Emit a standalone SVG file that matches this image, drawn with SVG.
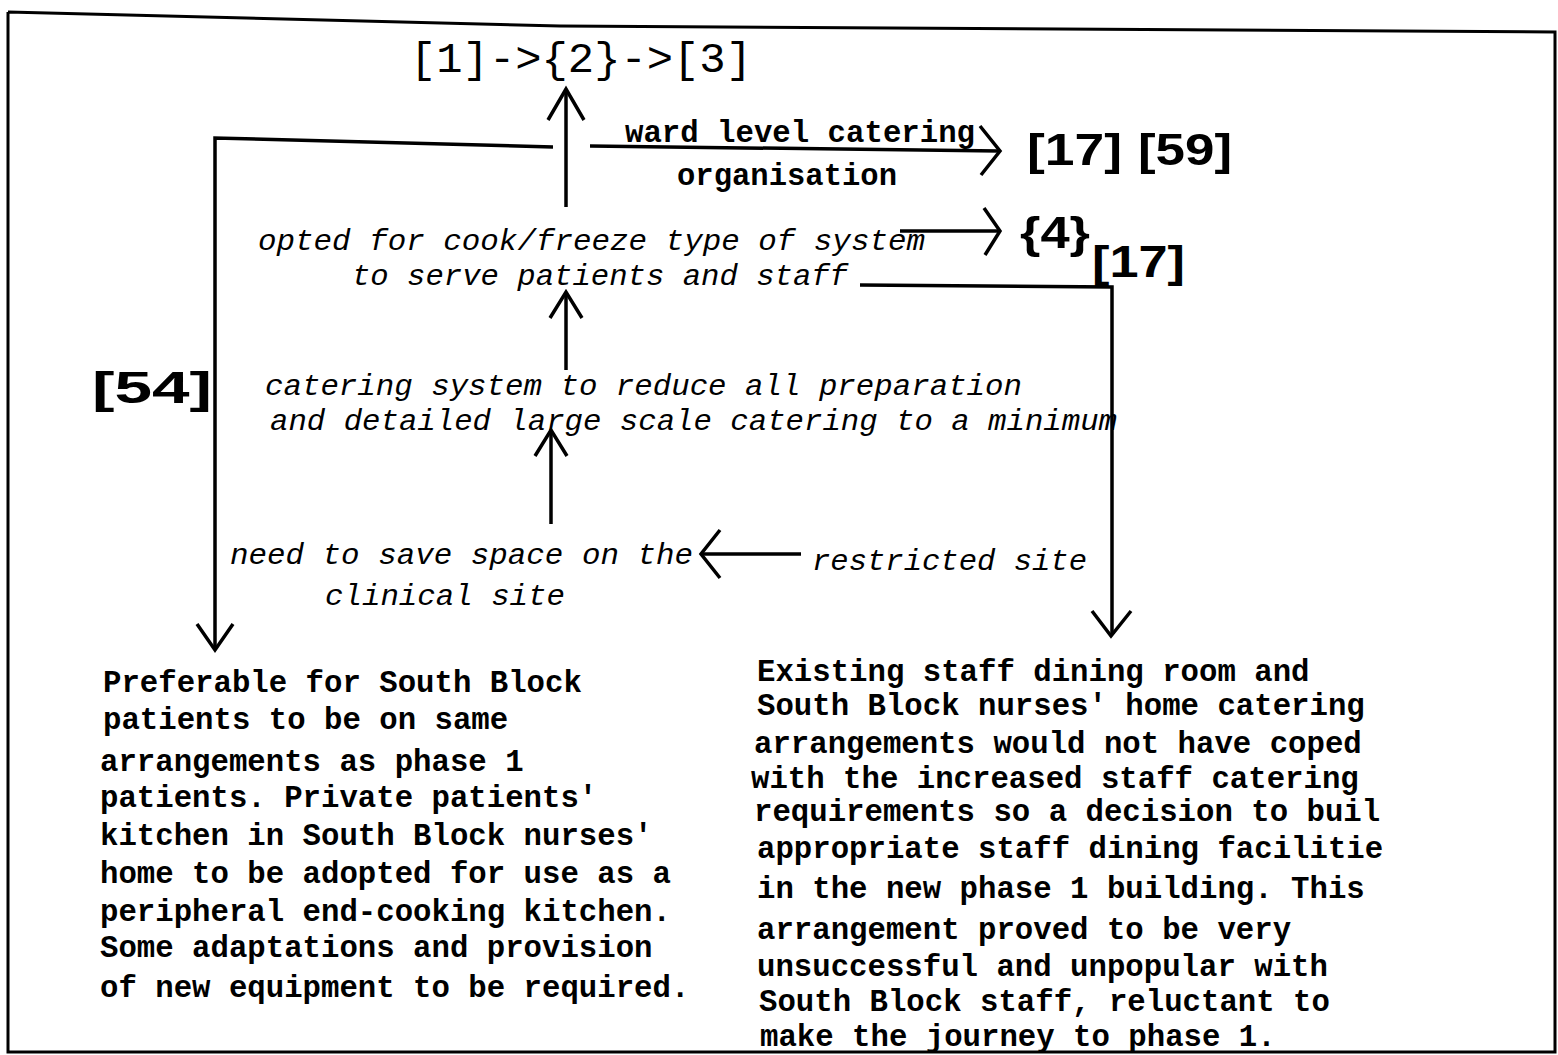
<svg xmlns="http://www.w3.org/2000/svg" width="1558" height="1055" viewBox="0 0 1558 1055">
<style>
  .frame { fill: none; stroke: #000; stroke-width: 3; }
  .line { fill: none; stroke: #000; stroke-width: 3.5; stroke-linecap: butt; }
  .head { fill: none; stroke: #000; stroke-width: 3.5; stroke-linejoin: miter; }
  .mono { font-family: "Liberation Mono", "Courier New", monospace; fill: #000; }
  .it { font-style: italic; font-size: 30px; }
  .bd { font-weight: bold; font-size: 30.7px; }
  .ref { font-family: "Liberation Sans", Arial, sans-serif; font-weight: bold; font-size: 44px; fill: #000; }
</style>
<rect width="1558" height="1055" fill="#fff"/>
<!-- outer frame -->
<polyline class="frame" points="8,12 560,26 1555,32 1555,1052 8,1052 8,12"/>

<g id="title">
  <text class="mono" x="410" y="72" font-size="43" textLength="342" lengthAdjust="spacingAndGlyphs">[1]-&gt;{2}-&gt;[3]</text>
</g>

<g id="ref-17-59">
  <text class="ref" x="1027" y="165" textLength="95" lengthAdjust="spacingAndGlyphs">[17]</text>
  <text class="ref" x="1138" y="165" textLength="94" lengthAdjust="spacingAndGlyphs">[59]</text>
</g>
<g id="ref-4">
  <text class="ref" x="1020" y="248" textLength="70" lengthAdjust="spacingAndGlyphs">{4}</text>
</g>
<g id="ref-17">
  <text class="ref" x="1092" y="277" textLength="93" lengthAdjust="spacingAndGlyphs">[17]</text>
</g>
<g id="ref-54">
  <text class="ref" x="92" y="403" textLength="120" lengthAdjust="spacingAndGlyphs">[54]</text>
</g>

<g id="ward-level">
  <text class="mono bd" x="625" y="142" textLength="350" lengthAdjust="spacingAndGlyphs">ward level catering</text>
  <text class="mono bd" x="677" y="185" textLength="220" lengthAdjust="spacingAndGlyphs">organisation</text>
</g>

<g id="cook-freeze">
  <text class="mono it" x="258" y="250" textLength="667" lengthAdjust="spacingAndGlyphs">opted for cook/freeze type of system</text>
  <text class="mono it" x="352" y="285" textLength="496" lengthAdjust="spacingAndGlyphs">to serve patients and staff</text>
</g>

<g id="reduce-prep">
  <text class="mono it" x="265" y="395" textLength="757" lengthAdjust="spacingAndGlyphs">catering system to reduce all preparation</text>
  <text class="mono it" x="270" y="430" textLength="847" lengthAdjust="spacingAndGlyphs">and detailed large scale catering to a minimum</text>
</g>

<g id="save-space">
  <text class="mono it" x="230" y="564" textLength="463" lengthAdjust="spacingAndGlyphs">need to save space on the</text>
  <text class="mono it" x="325" y="605" textLength="240" lengthAdjust="spacingAndGlyphs">clinical site</text>
</g>

<g id="restricted-site">
  <text class="mono it" x="812" y="570" textLength="275" lengthAdjust="spacingAndGlyphs">restricted site</text>
</g>

<g id="south-block-patients">
  <text class="mono bd" x="103" y="692">Preferable for South Block</text>
  <text class="mono bd" x="103" y="729">patients to be on same</text>
  <text class="mono bd" x="100" y="771">arrangements as phase 1</text>
  <text class="mono bd" x="100" y="807">patients. Private patients'</text>
  <text class="mono bd" x="100" y="845">kitchen in South Block nurses'</text>
  <text class="mono bd" x="100" y="883">home to be adopted for use as a</text>
  <text class="mono bd" x="100" y="921">peripheral end-cooking kitchen.</text>
  <text class="mono bd" x="100" y="957">Some adaptations and provision</text>
  <text class="mono bd" x="100" y="997">of new equipment to be required.</text>
</g>

<g id="staff-dining">
  <text class="mono bd" x="757" y="681">Existing staff dining room and</text>
  <text class="mono bd" x="757" y="715">South Block nurses' home catering</text>
  <text class="mono bd" x="754" y="753">arrangements would not have coped</text>
  <text class="mono bd" x="751" y="788">with the increased staff catering</text>
  <text class="mono bd" x="754" y="821">requirements so a decision to buil</text>
  <text class="mono bd" x="757" y="858">appropriate staff dining facilitie</text>
  <text class="mono bd" x="757" y="898">in the new phase 1 building. This</text>
  <text class="mono bd" x="757" y="939">arrangement proved to be very</text>
  <text class="mono bd" x="757" y="976">unsuccessful and unpopular with</text>
  <text class="mono bd" x="759" y="1011">South Block staff, reluctant to</text>
  <text class="mono bd" x="760" y="1046">make the journey to phase 1.</text>
</g>

<g id="connectors">
  <!-- up to title -->
  <line class="line" x1="566" y1="207" x2="566" y2="90"/>
  <polyline class="head" points="548,120 566,89 584,120"/>
  <!-- branch left, down to South Block patients -->
  <polyline class="line" points="553,147 215,138 215,648"/>
  <polyline class="head" points="197,624 215,650 233,624"/>
  <!-- ward level catering arrow -->
  <line class="line" x1="590" y1="146" x2="999" y2="151"/>
  <polyline class="head" points="980,126 1000,151 981,175"/>
  <!-- arrow to {4} -->
  <line class="line" x1="900" y1="231" x2="999" y2="231"/>
  <polyline class="head" points="984,208 1000,231 985,255"/>
  <!-- branch right, down to staff dining -->
  <polyline class="line" points="860,285 1112,287 1112,634"/>
  <polyline class="head" points="1092,611 1111,636 1131,611"/>
  <!-- reduce prep up to cook/freeze -->
  <line class="line" x1="566" y1="370" x2="566" y2="292"/>
  <polyline class="head" points="550,318 566,292 582,318"/>
  <!-- save space up to reduce prep -->
  <line class="line" x1="551" y1="524" x2="551" y2="430"/>
  <polyline class="head" points="535,456 551,430 567,456"/>
  <!-- restricted site to save space -->
  <line class="line" x1="801" y1="554" x2="702" y2="554"/>
  <polyline class="head" points="720,530 701,554 720,578"/>
</g>
</svg>
